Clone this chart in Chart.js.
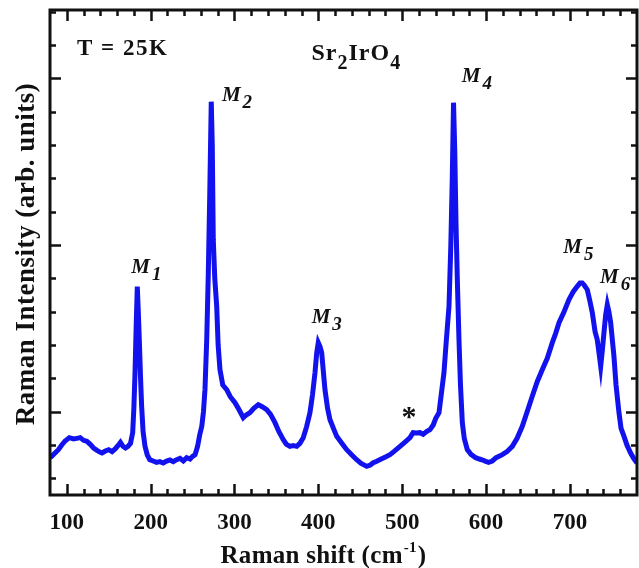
<!DOCTYPE html>
<html>
<head>
<meta charset="utf-8">
<title>Sr2IrO4 Raman spectrum at 25 K</title>
<script src="https://cdn.jsdelivr.net/npm/chart.js@4.4.1/dist/chart.umd.min.js"></script>
<style>
  html, body { margin: 0; padding: 0; background: #ffffff; }
  #wrap { width: 639px; height: 568px; }
</style>
</head>
<body>
<div id="wrap"><canvas id="spectrum" width="639" height="568"></canvas></div>
<script>
// Raman shift (cm^-1) and measured intensity (arb. units)
const ramanShift = [
  80, 82, 86, 90, 94, 98, 103, 108, 112, 116, 120, 124, 128, 132, 136, 140, 142, 146, 150, 154,
  158, 161, 164, 167, 170, 173, 176, 178.6, 180, 181.4, 182.8, 184.1, 185.3, 186.5, 188, 189.3, 191, 193.3, 196, 199,
  203, 207, 211, 215, 219, 223, 227, 231, 235, 239, 243, 247, 250, 253, 256, 258.5, 261, 263, 264.8, 266.9,
  268.8, 270.5, 272.3, 273.5, 274.7, 276.5, 278.8, 280.5, 282.7, 286, 290.7, 295, 300.6, 305, 310.5, 314, 318.5, 323, 328.4, 333,
  338.4, 343, 348.3, 353, 358.2, 362, 366.2, 370, 374.2, 378, 382, 386, 390, 393, 396, 398, 399.9, 402, 404, 406,
  407.9, 411, 413.9, 418, 421.9, 428, 433.8, 440, 445.7, 451, 457.7, 462, 465, 469.6, 475, 480, 485.4, 490, 497.4, 503,
  509.3, 513, 517, 521.2, 525, 529, 533.1, 537, 540, 543.9, 547, 549.8, 552.5, 555.8, 558, 559.7, 561.2, 562.7, 564.2, 565.7,
  567.7, 569.5, 571.7, 574, 577.6, 582, 587.6, 592, 596, 599.6, 603, 607.4, 612, 619.4, 625, 631.3, 637, 643.2, 649, 655.1,
  661, 667, 673, 679, 683, 687, 693, 698.9, 704, 708.8, 712, 714.7, 717, 720.7, 724, 726.7, 730, 732.6, 735, 736.7,
  738.5, 740.6, 742.6, 744.6, 746.5, 748.6, 752.5, 755, 758.5, 761, 764.5, 768, 772.4, 776, 780
];
const intensity = [
  862, 866, 876, 886, 900, 912, 922, 918, 920, 922, 914, 911, 902, 891, 884, 878, 876, 882, 886, 880,
  889, 898, 908, 896, 891, 896, 905, 937, 1010, 1117, 1260, 1375, 1300, 1216, 1100, 1016, 940, 896, 870, 856,
  852, 848, 850, 846, 852, 855, 850, 856, 860, 852, 862, 858, 866, 871, 896, 930, 956, 1000, 1066, 1216,
  1417, 1650, 1930, 1800, 1516, 1400, 1316, 1200, 1126, 1080, 1066, 1045, 1027, 1008, 982, 990, 997, 1010, 1021, 1015,
  1006, 992, 967, 940, 916, 902, 896, 898, 896, 905, 922, 955, 997, 1050, 1117, 1175, 1207, 1195, 1177, 1120,
  1066, 1010, 976, 950, 926, 905, 886, 870, 856, 845, 836, 840, 846, 851, 858, 864, 871, 880, 896, 908,
  922, 937, 936, 937, 932, 940, 946, 960, 980, 997, 1060, 1117, 1210, 1316, 1500, 1700, 1927, 1780, 1560, 1400,
  1216, 1080, 967, 920, 886, 872, 862, 858, 855, 851, 848, 852, 862, 871, 880, 896, 920, 956, 1000, 1046,
  1090, 1126, 1160, 1207, 1235, 1267, 1300, 1336, 1360, 1376, 1386, 1386, 1380, 1366, 1330, 1297, 1240, 1216, 1170, 1136,
  1180, 1237, 1290, 1321, 1300, 1267, 1166, 1080, 997, 950, 926, 900, 876, 860, 846
];

// Axis ranges and tick values
const xRange = [80, 780];
const yRange = [750, 2205];
const xMajorTicks = [100, 200, 300, 400, 500, 600, 700];
const xMinorStep = 20;
const yMajorTicks = [1000, 1500, 2000];
const yMinorStep = 100;

// Mode labels M1..M6 (subscript index) and where they sit in data coordinates
const modeIndex = ['1', '2', '3', '4', '5', '6'];
const modeLabelShift = [177, 285, 392, 571, 692, 736];
const modeLabelIntensity = [1416, 1931, 1266, 1988, 1476, 1386];

const SERIF = '"Liberation Serif", "Times New Roman", serif';
const INK = '#111111';
const LINE_BLUE = 'rgb(18, 18, 238)';

const points = ramanShift.map((x, i) => ({ x: x, y: intensity[i] }));

function rangeSteps(lo, hi, step) {
  const out = [];
  const start = Math.ceil(lo / step) * step;
  for (let v = start; v <= hi + 1e-9; v += step) out.push(v);
  return out;
}

// Frame with inward major/minor ticks on all four sides
const frameTicks = {
  id: 'frameTicks',
  afterDatasetsDraw(chart) {
    const { ctx, chartArea: a, scales } = chart;
    const xs = scales.x, ys = scales.y;
    const majLen = 11, minLen = 6;
    ctx.save();
    ctx.strokeStyle = INK;
    ctx.lineCap = 'butt';
    ctx.lineWidth = 2.5;
    const xMinor = rangeSteps(xRange[0], xRange[1], xMinorStep);
    xMinor.forEach(v => {
      const px = Math.round(xs.getPixelForValue(v)) + 0.5;
      const len = xMajorTicks.includes(v) ? majLen : minLen;
      if (px <= a.left + 2 || px >= a.right - 2) return;
      ctx.beginPath();
      ctx.moveTo(px, a.bottom); ctx.lineTo(px, a.bottom - len);
      ctx.moveTo(px, a.top); ctx.lineTo(px, a.top + len);
      ctx.stroke();
    });
    const yMinor = rangeSteps(yRange[0], yRange[1], yMinorStep);
    yMinor.forEach(v => {
      const py = Math.round(ys.getPixelForValue(v)) + 0.5;
      const len = yMajorTicks.includes(v) ? majLen : minLen;
      if (py <= a.top + 2 || py >= a.bottom - 2) return;
      ctx.beginPath();
      ctx.moveTo(a.left, py); ctx.lineTo(a.left + len, py);
      ctx.moveTo(a.right, py); ctx.lineTo(a.right - len, py);
      ctx.stroke();
    });
    ctx.lineWidth = 3;
    ctx.strokeRect(a.left, a.top, a.right - a.left, a.bottom - a.top);
    ctx.restore();
  }
};

// Text with a lowered (sub) or raised (sup) part
function drawRuns(ctx, x, y, runs) {
  let cx = x;
  runs.forEach(r => {
    ctx.font = r.font;
    ctx.fillText(r.text, cx, y + (r.dy || 0));
    cx += ctx.measureText(r.text).width + (r.gap || 0);
  });
  return cx;
}

function runsWidth(ctx, runs) {
  let w = 0;
  runs.forEach(r => { ctx.font = r.font; w += ctx.measureText(r.text).width + (r.gap || 0); });
  return w;
}

const annotations = {
  id: 'annotations',
  afterDraw(chart) {
    const { ctx, scales, chartArea: a } = chart;
    const xs = scales.x, ys = scales.y;
    ctx.save();
    ctx.fillStyle = INK;
    ctx.textBaseline = 'alphabetic';
    ctx.textAlign = 'left';

    // Temperature and compound
    ctx.letterSpacing = '1.5px';
    ctx.font = 'bold 23px ' + SERIF;
    ctx.fillText('T = 25K', a.left + 27, a.top + 45);
    ctx.letterSpacing = '1px';
    drawRuns(ctx, 311.5, a.top + 50, [
      { text: 'Sr', font: 'bold 24px ' + SERIF },
      { text: '2', font: 'bold 20px ' + SERIF, dy: 9 },
      { text: 'IrO', font: 'bold 24px ' + SERIF },
      { text: '4', font: 'bold 20px ' + SERIF, dy: 9 }
    ]);
    ctx.letterSpacing = '0px';

    // Phonon mode labels
    modeIndex.forEach((n, i) => {
      const px = xs.getPixelForValue(modeLabelShift[i]);
      const py = ys.getPixelForValue(modeLabelIntensity[i]);
      drawRuns(ctx, px, py, [
        { text: 'M', font: 'italic bold 21px ' + SERIF, gap: 2 },
        { text: n, font: 'italic bold 19px ' + SERIF, dy: 7 }
      ]);
    });

    // Impurity feature marker
    ctx.font = 'bold 30px ' + SERIF;
    ctx.textAlign = 'center';
    ctx.fillText('*', xs.getPixelForValue(508), ys.getPixelForValue(1000) + 14);

    // Axis titles
    ctx.textAlign = 'left';
    ctx.letterSpacing = '0.3px';
    const xTitleRuns = [
      { text: 'Raman shift (cm', font: 'bold 25px ' + SERIF, gap: 1 },
      { text: '-1', font: 'bold 15px ' + SERIF, dy: -11, gap: 1 },
      { text: ')', font: 'bold 25px ' + SERIF }
    ];
    const w = runsWidth(ctx, xTitleRuns);
    drawRuns(ctx, 323.5 - w / 2, 563, xTitleRuns);

    ctx.letterSpacing = '0.5px';
    ctx.translate(34, 254);
    ctx.rotate(-Math.PI / 2);
    ctx.textAlign = 'center';
    ctx.font = 'bold 27px ' + SERIF;
    ctx.fillText('Raman Intensity (arb. units)', 0, 0);
    ctx.restore();
  }
};

new Chart(document.getElementById('spectrum'), {
  type: 'line',
  data: {
    datasets: [{
      data: points,
      borderColor: LINE_BLUE,
      borderWidth: 5,
      pointRadius: 0,
      tension: 0,
      fill: false
    }]
  },
  options: {
    responsive: false,
    animation: false,
    devicePixelRatio: 1,
    layout: { padding: { left: 50, top: 10, right: 2, bottom: 0 } },
    plugins: { legend: { display: false }, tooltip: { enabled: false } },
    scales: {
      x: {
        type: 'linear',
        min: xRange[0],
        max: xRange[1],
        grid: { display: false },
        border: { display: false },
        afterBuildTicks(scale) { scale.ticks = xMajorTicks.map(v => ({ value: v })); },
        afterFit(scale) { scale.height = 73; },
        ticks: {
          padding: 6,
          maxRotation: 0,
          color: INK,
          font: { family: SERIF, size: 23, weight: 'bold' },
          callback: v => String(v)
        }
      },
      y: {
        type: 'linear',
        display: false,
        min: yRange[0],
        max: yRange[1]
      }
    }
  },
  plugins: [frameTicks, annotations]
});
</script>
</body>
</html>
